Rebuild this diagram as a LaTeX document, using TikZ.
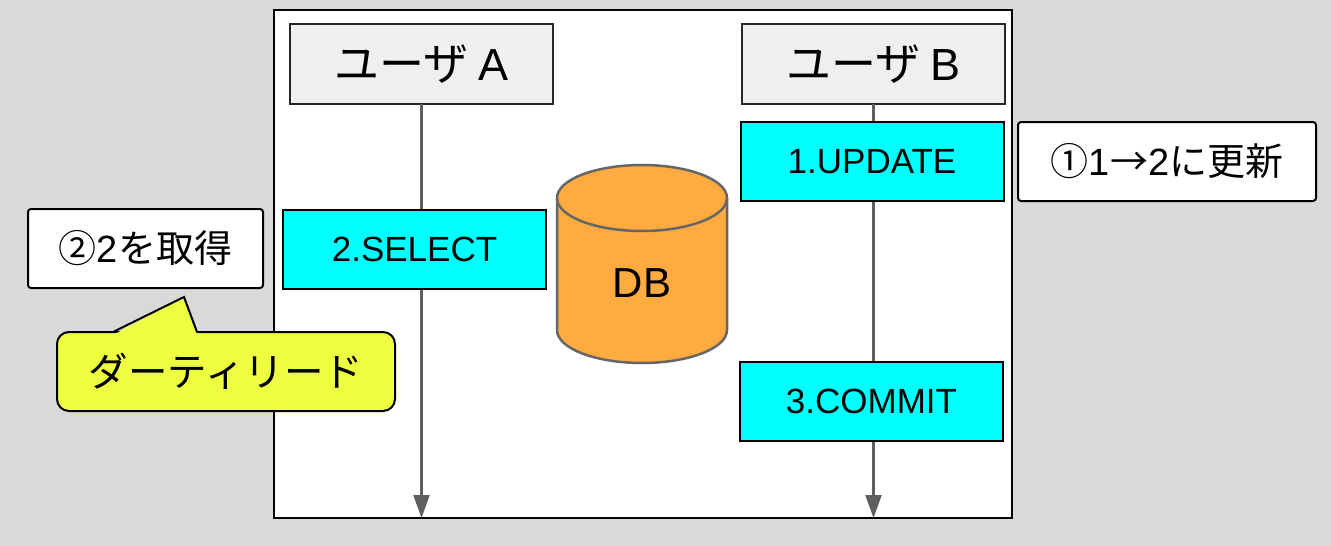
\documentclass[tikz,border=0pt]{standalone}
\usepackage{fontspec}
\setmainfont{Liberation Sans}
\newfontfamily\jp{Noto Sans CJK JP}
\usetikzlibrary{arrows.meta}
\definecolor{bggray}{HTML}{D9D9D9}
\definecolor{userfill}{HTML}{EFEFEF}
\definecolor{opcyan}{HTML}{00FFFF}
\definecolor{dborange}{HTML}{FFAB40}
\definecolor{dbline}{HTML}{666666}
\definecolor{lifegray}{HTML}{5F5F5F}
\definecolor{calloutyellow}{HTML}{EEFF41}
\newcommand{\fs}[1]{\fontsize{#1pt}{#1pt}\selectfont}
\tikzset{
  frame/.style={draw=black, line width=2.5pt, fill=white, minimum width=738pt, minimum height=508pt, inner sep=0pt, outer sep=0pt},
  userbox/.style={draw=black!85, line width=2pt, fill=userfill, minimum width=263pt, minimum height=80pt, inner sep=0pt, outer sep=0pt, font=\fs{45}},
  opbox/.style={draw=black, line width=2pt, fill=opcyan, minimum width=263pt, minimum height=79pt, inner sep=0pt, outer sep=0pt, font=\fs{35}},
  notebox/.style={draw=black, line width=2pt, fill=white, rounded corners=3pt, minimum height=79pt, inner sep=0pt, outer sep=0pt, font=\fs{38}},
  lifeline/.style={draw=lifegray, line width=2.2pt, -{Triangle[width=16pt,length=23pt]}},
  dbshape/.style={draw=dbline, line width=2.5pt, fill=dborange},
  callout/.style={draw=black, line width=2pt, fill=calloutyellow},
}
\begin{document}
\begin{tikzpicture}[x=1pt,y=-1pt]
\useasboundingbox (0,0) rectangle (1331,546);
\fill[bggray] (0,0) rectangle (1331,546);
\node[frame] (frame) at (643,264) {};
\node[userbox] (ua) at (421.5,64) {{\jp ユーザ}\kern-2pt\ A};
\node[userbox] (ub) at (873.5,64) {{\jp ユーザ}\kern-2pt\ B};
\draw[lifeline] (ua.south) -- (ua.south |- frame.south);
\draw[lifeline] (ub.south) -- (ub.south |- frame.south);
\node[opbox] (sel) at (414.5,249) {2.SELECT};
\node[opbox] (upd) at (872,161.5) {1.UPDATE};
\node[opbox] (com) at (871.5,401.5) {3.COMMIT};
% DB cylinder
\path[dbshape] (557,198) -- (557,330) arc[start angle=180, end angle=360, x radius=85pt, y radius=33pt] -- (727,198) arc[start angle=0, end angle=180, x radius=85pt, y radius=33pt] -- cycle;
\draw[dbshape, fill=none] (557,198) arc[start angle=180, end angle=360, x radius=85pt, y radius=33pt];
\node[font=\fs{42}] (db) at (642,283) {DB};
% notes
\node[notebox, minimum width=298pt] (n1) at (1167,161.5) {{\jp ①}1{\jp →}2{\jp に更新}};
\node[notebox, minimum width=235pt] (n2) at (145.5,248.5) {{\jp ②}2{\jp を取得}};
% callout
\node[callout, rounded corners=12pt, minimum width=338pt, minimum height=79pt, inner sep=0pt, outer sep=0pt] (dirty) at (226,371.5) {};
\fill[calloutyellow] (115,334) -- (184,297) -- (197,334) -- cycle;
\draw[line width=2pt, line join=miter] (113,332) -- (184,297) -- (197,332);
\node[font=\fs{39.5}] (dirtytext) at (dirty.center) {\jp ダーティリード};
\end{tikzpicture}
\end{document}
